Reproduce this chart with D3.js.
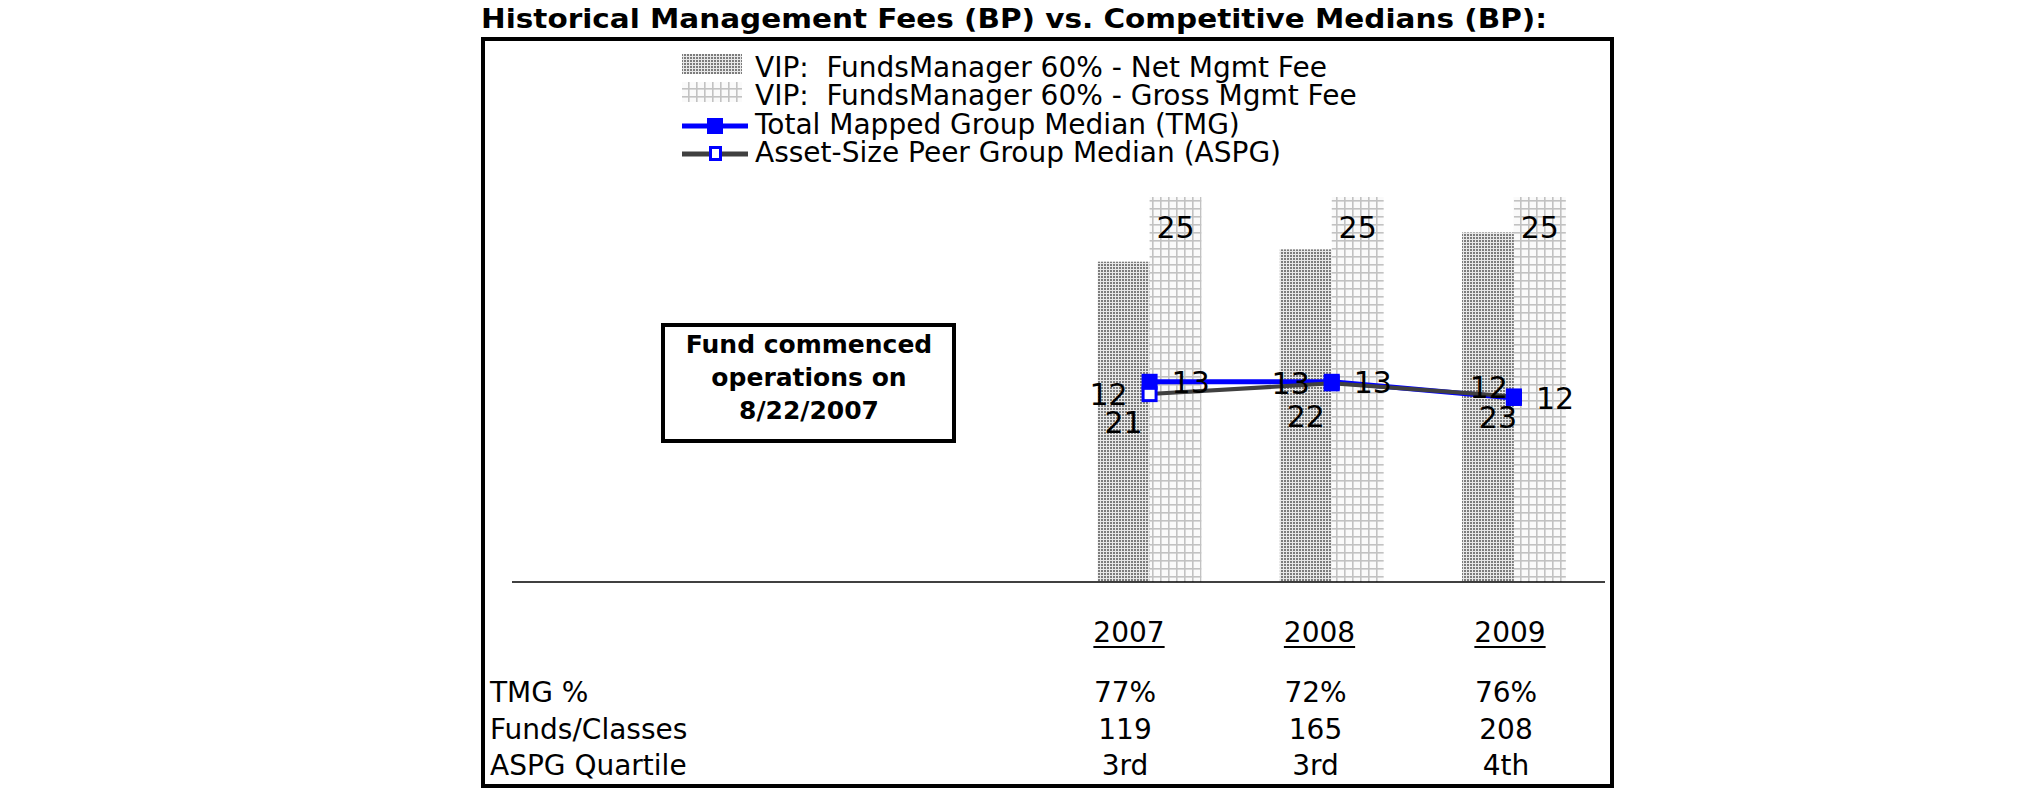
<!DOCTYPE html>
<html>
<head>
<meta charset="utf-8">
<script src="https://cdn.jsdelivr.net/npm/d3@7"></script>
<style>
  html, body { margin: 0; padding: 0; background: #fff; }
  svg text { font-family: "DejaVu Sans", Verdana, sans-serif; white-space: pre; }
</style>
</head>
<body>
<svg id="chart" width="2025" height="806"></svg>
<script>
// ---------------- data ----------------
const years = ["2007", "2008", "2009"];
const netFee = [20.8, 21.6, 22.7];
const grossFee = [25, 25, 25];
const tmgMedian = [13.0, 13.0, 11.95];
const aspgMedian = [12.2, 12.9, 12.05];

const legendLabels = [
  "VIP:  FundsManager 60% - Net Mgmt Fee",
  "VIP:  FundsManager 60% - Gross Mgmt Fee",
  "Total Mapped Group Median (TMG)",
  "Asset-Size Peer Group Median (ASPG)"
];
const rowLabels = ["TMG %", "Funds/Classes", "ASPG Quartile"];
const tmgPct = ["77%", "72%", "76%"];
const fundsClasses = ["119", "165", "208"];
const aspgQuartile = ["3rd", "3rd", "4th"];

const titleText = "Historical Management Fees (BP) vs. Competitive Medians (BP):";
const noteLines = ["Fund commenced", "operations on", "8/22/2007"];

// ---------------- layout ----------------
const svg = d3.select("#chart");
svg.append("rect").attr("width", 2025).attr("height", 806).attr("fill", "#fff");

const plotLeft = 512, plotRight = 1605, baseY = 582, topY = 197;

const defs = svg.append("defs");
const pNet = defs.append("pattern").attr("id", "netPat")
  .attr("patternUnits", "userSpaceOnUse").attr("width", 3).attr("height", 3);
pNet.append("rect").attr("width", 3).attr("height", 3).attr("fill", "#e8e8e8");
pNet.append("rect").attr("width", 2).attr("height", 2).attr("fill", "#7c7c7c");

const pGross = defs.append("pattern").attr("id", "grossPat")
  .attr("patternUnits", "userSpaceOnUse").attr("width", 8).attr("height", 8);
pGross.append("rect").attr("width", 8).attr("height", 8).attr("fill", "#fafafa");
pGross.append("rect").attr("x", 0).attr("y", 0).attr("width", 1.6).attr("height", 8).attr("fill", "#c2c2c2");
pGross.append("rect").attr("x", 0).attr("y", 0).attr("width", 8).attr("height", 1.6).attr("fill", "#c2c2c2");

// Title
svg.append("text").attr("x", 481).attr("y", 28)
  .attr("font-size", 27).attr("font-weight", "bold")
  .attr("textLength", 1066).attr("lengthAdjust", "spacingAndGlyphs")
  .text(titleText);

// Outer box
svg.append("rect").attr("x", 483).attr("y", 39).attr("width", 1129).attr("height", 747)
  .attr("fill", "none").attr("stroke", "#000").attr("stroke-width", 4);

// Scales: the three years occupy the right half of the plot's category axis
const x0 = d3.scaleBand().domain(years)
  .range([plotLeft + (plotRight - plotLeft) / 2, plotRight])
  .paddingInner(0.43).paddingOuter(0.215);
const series = ["net", "gross"];
const x1 = d3.scaleBand().domain(series).range([0, x0.bandwidth()]);
const y = d3.scaleLinear().domain([0, 25]).range([baseY, topY]);
const cx = d => x0(d) + x0.bandwidth() / 2;

// Bars
const barData = years.map((yr, i) => [
  { yr, key: "net", v: netFee[i] },
  { yr, key: "gross", v: grossFee[i] }
]).flat();

svg.append("g").selectAll("rect").data(barData).join("rect")
  .attr("x", d => x0(d.yr) + x1(d.key))
  .attr("width", x1.bandwidth())
  .attr("y", d => y(d.v))
  .attr("height", d => y(0) - y(d.v))
  .attr("fill", d => d.key === "net" ? "url(#netPat)" : "url(#grossPat)");

// Baseline
svg.append("line").attr("x1", plotLeft).attr("x2", plotRight)
  .attr("y1", baseY).attr("y2", baseY).attr("stroke", "#000").attr("stroke-width", 1.5);

// Lines
const tmgPts = years.map((yr, i) => [cx(yr), y(tmgMedian[i])]);
const aspgPts = years.map((yr, i) => [cx(yr), y(aspgMedian[i])]);
const lineGen = d3.line();
svg.append("path").attr("d", lineGen(tmgPts)).attr("fill", "none")
  .attr("stroke", "#0000ff").attr("stroke-width", 5);
svg.append("path").attr("d", lineGen(aspgPts)).attr("fill", "none")
  .attr("stroke", "#404040").attr("stroke-width", 4);

const mk = 16;
svg.append("g").selectAll("rect").data(aspgPts).join("rect")
  .attr("x", d => d[0] - mk / 2 + 1.5).attr("y", d => d[1] - mk / 2 + 1.5)
  .attr("width", mk - 3).attr("height", mk - 3)
  .attr("fill", "#fff").attr("stroke", "#0000ff").attr("stroke-width", 3);
svg.append("g").selectAll("rect").data(tmgPts).join("rect")
  .attr("x", d => d[0] - mk / 2).attr("y", d => d[1] - mk / 2)
  .attr("width", mk).attr("height", mk).attr("fill", "#0000ff");

// Data labels (positions by centre y, then simple collision separation)
const lblSize = 30, capHalf = 11, collideBelow = 24, sepTarget = 30;
const labels = svg.append("g").attr("font-size", lblSize).attr("fill", "#000");
years.forEach((yr, i) => {
  const netLbl = { x: x0(yr) + x1("net") + x1.bandwidth() / 2, cy: (y(netFee[i]) + y(0)) / 2 };
  const aspLbl = { x: aspgPts[i][0] - 22, cy: aspgPts[i][1] };
  const gap = netLbl.cy - aspLbl.cy;
  if (gap < collideBelow) {
    const mid = (netLbl.cy + aspLbl.cy) / 2;
    netLbl.cy = mid + sepTarget / 2;
    aspLbl.cy = mid - sepTarget / 2;
    netLbl.x += 10;
    aspLbl.x += 16;
  }
  labels.append("text").attr("x", x0(yr) + x1("gross") + x1.bandwidth() / 2)
    .attr("y", y(grossFee[i]) + 41).attr("text-anchor", "middle")
    .text(Math.round(grossFee[i]));
  labels.append("text").attr("x", netLbl.x).attr("y", netLbl.cy + capHalf)
    .attr("text-anchor", "middle").text(Math.round(netFee[i]));
  labels.append("text").attr("x", tmgPts[i][0] + 22).attr("y", tmgPts[i][1] + capHalf)
    .attr("text-anchor", "start").text(Math.round(tmgMedian[i]));
  labels.append("text").attr("x", aspLbl.x).attr("y", aspLbl.cy + capHalf)
    .attr("text-anchor", "end").text(Math.round(aspgMedian[i]));
});

// Legend
const lg = svg.append("g");
const lgX = 682, lgTextX = 755, lgBase = [77, 105, 134, 162];
lg.append("rect").attr("x", lgX).attr("y", lgBase[0] - 23).attr("width", 60).attr("height", 20)
  .attr("fill", "url(#netPat)");
lg.append("rect").attr("x", lgX).attr("y", lgBase[1] - 23).attr("width", 60).attr("height", 20)
  .attr("fill", "url(#grossPat)");
lg.append("line").attr("x1", lgX).attr("x2", lgX + 66)
  .attr("y1", lgBase[2] - 8).attr("y2", lgBase[2] - 8)
  .attr("stroke", "#0000ff").attr("stroke-width", 5);
lg.append("rect").attr("x", lgX + 25).attr("y", lgBase[2] - 16).attr("width", 16).attr("height", 16)
  .attr("fill", "#0000ff");
lg.append("line").attr("x1", lgX).attr("x2", lgX + 66)
  .attr("y1", lgBase[3] - 8).attr("y2", lgBase[3] - 8)
  .attr("stroke", "#404040").attr("stroke-width", 5);
lg.append("rect").attr("x", lgX + 28.5).attr("y", lgBase[3] - 14.5).attr("width", 10).attr("height", 12)
  .attr("fill", "#fff").attr("stroke", "#0000ff").attr("stroke-width", 3);
lg.selectAll("text.lt").data(legendLabels).join("text").attr("class", "lt")
  .attr("x", lgTextX).attr("y", (d, i) => lgBase[i])
  .attr("font-size", 28).text(d => d);

// Annotation box
svg.append("rect").attr("x", 663).attr("y", 325).attr("width", 291).attr("height", 116)
  .attr("fill", "#fff").attr("stroke", "#000").attr("stroke-width", 4);
svg.append("g").selectAll("text").data(noteLines).join("text")
  .attr("x", 809).attr("y", (d, i) => 353 + i * 33)
  .attr("text-anchor", "middle").attr("font-size", 25).attr("font-weight", "bold")
  .text(d => d);

// Table below chart
const colX = d3.scalePoint().domain(years).range([1125, 1506]);
const tbl = svg.append("g").attr("font-size", 28);
years.forEach(yr => {
  const t = tbl.append("text").attr("x", colX(yr) + 4).attr("y", 642)
    .attr("text-anchor", "middle").text(yr);
  const bb = t.node().getBBox();
  tbl.append("line").attr("x1", bb.x).attr("x2", bb.x + bb.width)
    .attr("y1", 647).attr("y2", 647).attr("stroke", "#000").attr("stroke-width", 2);
});
const rowBase = [702, 739, 775];
const rowVals = [tmgPct, fundsClasses, aspgQuartile];
rowLabels.forEach((lab, r) => {
  tbl.append("text").attr("x", 490).attr("y", rowBase[r]).text(lab);
  years.forEach((yr, c) => {
    tbl.append("text").attr("x", colX(yr)).attr("y", rowBase[r])
      .attr("text-anchor", "middle").text(rowVals[r][c]);
  });
});
</script>
</body>
</html>
